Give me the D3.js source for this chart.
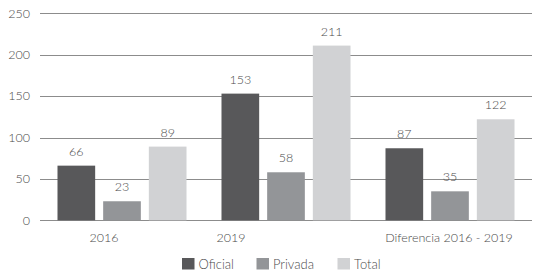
<!DOCTYPE html>
<html>
<head>
<meta charset="utf-8">
<script src="https://cdn.jsdelivr.net/npm/d3@7"></script>
<style>
  body { margin: 0; background: #fff; }
  svg text { font-family: Lato, "Open Sans", sans-serif; font-weight: 300; fill: #4a4a4a; }
</style>
</head>
<body>
<svg id="chart"></svg>
<script>
// data
const categories = ["2016", "2019", "Diferencia 2016 - 2019"];
const series = ["Oficial", "Privada", "Total"];
const oficial = [66, 153, 87];
const privada = [23, 58, 35];
const total = [89, 211, 122];
const yTicks = [0, 50, 100, 150, 200, 250];

const colors = ["#58585a", "#939598", "#d1d2d4"];

const width = 539, height = 274;
const margin = {top: 13.3, right: 7, bottom: 53.7, left: 40};
// the category labels in the original sit a bit left of their groups
const labelNudge = [-18, -55, -1];

const svg = d3.select("#chart")
  .attr("width", width)
  .attr("height", height);

const rows = categories.map((c, i) => ({
  category: c,
  values: [oficial[i], privada[i], total[i]]
}));

const x0 = d3.scaleBand()
  .domain(categories)
  .range([margin.left, width - margin.right]);

const x1 = d3.scaleBand()
  .domain(series)
  .range([0, x0.bandwidth()])
  .paddingInner(0.175)
  .paddingOuter(0.383);

const y = d3.scaleLinear()
  .domain([0, 250])
  .range([height - margin.bottom, margin.top]);

// gridlines
svg.append("g")
  .selectAll("line")
  .data(yTicks)
  .join("line")
  .attr("x1", margin.left)
  .attr("x2", width - margin.right)
  .attr("y1", d => Math.round(y(d)) + 0.5)
  .attr("y2", d => Math.round(y(d)) + 0.5)
  .attr("stroke", "#8c8c8c")
  .attr("stroke-width", 1.2);

// y labels
svg.append("g")
  .selectAll("text")
  .data(yTicks)
  .join("text")
  .attr("x", 30)
  .attr("y", d => y(d))
  .attr("dy", "0.35em")
  .attr("text-anchor", "end")
  .style("font-size", "12.5px")
  .text(d => d);

// bars
const groups = svg.append("g")
  .selectAll("g")
  .data(rows)
  .join("g")
  .attr("transform", d => "translate(" + x0(d.category) + ",0)");

groups.selectAll("rect")
  .data(d => d.values.map((v, i) => ({key: series[i], value: v, i: i})))
  .join("rect")
  .attr("x", d => x1(d.key))
  .attr("width", x1.bandwidth())
  .attr("y", d => y(d.value))
  .attr("height", d => y(0) - y(d.value))
  .attr("fill", d => colors[d.i]);

// value labels
groups.selectAll("text.val")
  .data(d => d.values.map((v, i) => ({key: series[i], value: v})))
  .join("text")
  .attr("class", "val")
  .attr("x", d => x1(d.key) + x1.bandwidth() / 2)
  .attr("y", d => y(d.value) - 10)
  .attr("text-anchor", "middle")
  .style("font-size", "12.5px")
  .text(d => d.value);

// category labels
svg.append("g")
  .selectAll("text")
  .data(categories)
  .join("text")
  .attr("x", (d, i) => x0(d) + x0.bandwidth() / 2 + labelNudge[i])
  .attr("y", 241.5)
  .attr("text-anchor", "middle")
  .style("font-size", "12.5px")
  .text(d => d);

// legend
const legendX = [182, 256.5, 337.5];
const legend = svg.append("g")
  .selectAll("g")
  .data(series)
  .join("g")
  .attr("transform", (d, i) => "translate(" + legendX[i] + ",258)");

legend.append("rect")
  .attr("width", 12.5)
  .attr("height", 11.5)
  .attr("fill", (d, i) => colors[i]);

legend.append("text")
  .attr("x", 16.5)
  .attr("y", 11.2)
  .style("font-size", "13px")
  .text(d => d);
</script>
</body>
</html>
